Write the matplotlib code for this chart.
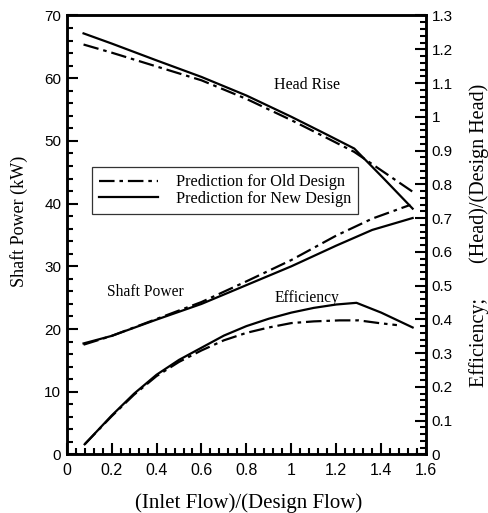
import matplotlib
matplotlib.use("Agg")
import matplotlib.pyplot as plt
from matplotlib.ticker import MultipleLocator, FuncFormatter
from matplotlib.lines import Line2D

# ---- data ----
head_x_new = [0.075, 0.2, 0.4, 0.6, 0.8, 1.0, 1.15, 1.28, 1.41, 1.54]
head_new = [1.247, 1.217, 1.167, 1.118, 1.063, 1.0, 0.95, 0.906, 0.818, 0.728]
head_x_old = [0.075, 0.2, 0.4, 0.6, 0.8, 1.0, 1.15, 1.28, 1.41, 1.54]
head_old = [1.214, 1.19, 1.149, 1.108, 1.053, 0.99, 0.94, 0.896, 0.837, 0.778]

power_x_new = [0.075, 0.2, 0.4, 0.6, 0.8, 1.0, 1.2, 1.36, 1.54]
power_new = [17.7, 18.9, 21.5, 24.0, 27.0, 30.0, 33.3, 35.8, 37.7]
power_x_old = [0.075, 0.2, 0.4, 0.6, 0.8, 1.0, 1.2, 1.36, 1.53]
power_old = [17.5, 18.9, 21.6, 24.3, 27.6, 31.0, 34.9, 37.6, 39.8]

eff_x_new = [0.08, 0.2, 0.3, 0.4, 0.5, 0.6, 0.7, 0.8, 0.9, 1.0, 1.1, 1.2, 1.29, 1.4, 1.54]
eff_new = [0.03, 0.115, 0.18, 0.236, 0.28, 0.316, 0.352, 0.38, 0.402, 0.42, 0.434, 0.444, 0.449, 0.42, 0.376]
eff_x_old = [0.08, 0.2, 0.3, 0.4, 0.5, 0.6, 0.7, 0.8, 0.9, 1.0, 1.1, 1.215, 1.3, 1.39, 1.47]
eff_old = [0.03, 0.113, 0.177, 0.232, 0.274, 0.308, 0.338, 0.36, 0.376, 0.389, 0.394, 0.397, 0.397, 0.389, 0.383]

legend_labels = ["Prediction for Old Design", "Prediction for New Design"]

serif = "Liberation Serif"
sans = "Liberation Sans"

fig = plt.figure(figsize=(4.89, 5.13), dpi=100)
ax = fig.add_axes([0.1364, 0.1142, 0.735, 0.8556])
ax2 = ax.twinx()

dashdot = (0, (7, 2.2, 1.6, 2.2))
lw = 1.6

ax2.plot(head_x_old, head_old, color="black", lw=lw, linestyle=dashdot)
ax2.plot(head_x_new, head_new, color="black", lw=lw, linestyle="-")
ax.plot(power_x_old, power_old, color="black", lw=lw, linestyle=dashdot)
ax.plot(power_x_new, power_new, color="black", lw=lw, linestyle="-")
ax2.plot(eff_x_old, eff_old, color="black", lw=lw, linestyle=dashdot)
ax2.plot(eff_x_new, eff_new, color="black", lw=lw, linestyle="-")

ax.set_xlim(0, 1.6)
ax.set_ylim(0, 70)
ax2.set_ylim(0, 1.3)

ax.xaxis.set_major_locator(MultipleLocator(0.2))
ax.xaxis.set_minor_locator(MultipleLocator(0.04))
ax.yaxis.set_major_locator(MultipleLocator(10))
ax.yaxis.set_minor_locator(MultipleLocator(2))
ax2.yaxis.set_major_locator(MultipleLocator(0.1))
ax2.yaxis.set_minor_locator(MultipleLocator(0.02))

fmt = FuncFormatter(lambda v, p: ("%g" % round(v, 2)))
ax.xaxis.set_major_formatter(fmt)
ax2.yaxis.set_major_formatter(fmt)

for a in (ax, ax2):
    for s in a.spines.values():
        s.set_linewidth(1.8)
ax.tick_params(axis="x", which="both", direction="in", top=False, width=1.5)
ax.tick_params(axis="y", which="both", direction="in", right=False, width=1.5)
ax2.tick_params(axis="y", which="both", direction="in", left=False, width=1.5)
for a in (ax, ax2):
    a.tick_params(which="major", length=8)
    a.tick_params(which="minor", length=4)

for lab in ax.get_xticklabels():
    lab.set_fontfamily(sans)
    lab.set_fontsize(11.5)
for lab in ax.get_yticklabels() + ax2.get_yticklabels():
    lab.set_fontfamily(sans)
    lab.set_fontsize(11)
ax.tick_params(axis="x", pad=6)
ax.tick_params(axis="y", pad=4)
ax2.tick_params(axis="y", pad=4)

ax.set_xlabel("(Inlet Flow)/(Design Flow)", fontfamily=serif, fontsize=15)
ax.xaxis.set_label_coords(0.505, -0.088)
ax.set_ylabel("Shaft Power (kW)", fontfamily=serif, fontsize=13)
ax.yaxis.set_label_coords(-0.108, 0.53)

# right-hand label as free text so that it stays inside the figure
fig.text(479 / 489, 1 - 235 / 513, "Efficiency;       (Head)/(Design Head)",
         fontfamily=serif, fontsize=14.5, rotation=90, ha="center", va="center")

ax.text(1.07, 58.9, "Head Rise", fontfamily=serif, fontsize=11.5, ha="center", va="center")
ax.text(0.35, 25.9, "Shaft Power", fontfamily=serif, fontsize=11.2, ha="center", va="center")
ax.text(1.07, 24.9, "Efficiency", fontfamily=serif, fontsize=11.2, ha="center", va="center")

handles = [Line2D([], [], color="black", lw=lw, linestyle=dashdot),
           Line2D([], [], color="black", lw=lw, linestyle="-")]
leg = ax.legend(handles, legend_labels, loc="upper left",
                bbox_to_anchor=(0.070, 0.655), frameon=True, fancybox=False,
                edgecolor="black", prop={"family": serif, "size": 11.7},
                handlelength=3.6, borderpad=0.45, labelspacing=0.05, handletextpad=1.1,
                borderaxespad=0)
leg.get_frame().set_linewidth(0.9)

fig.savefig("out.png", dpi=100)
